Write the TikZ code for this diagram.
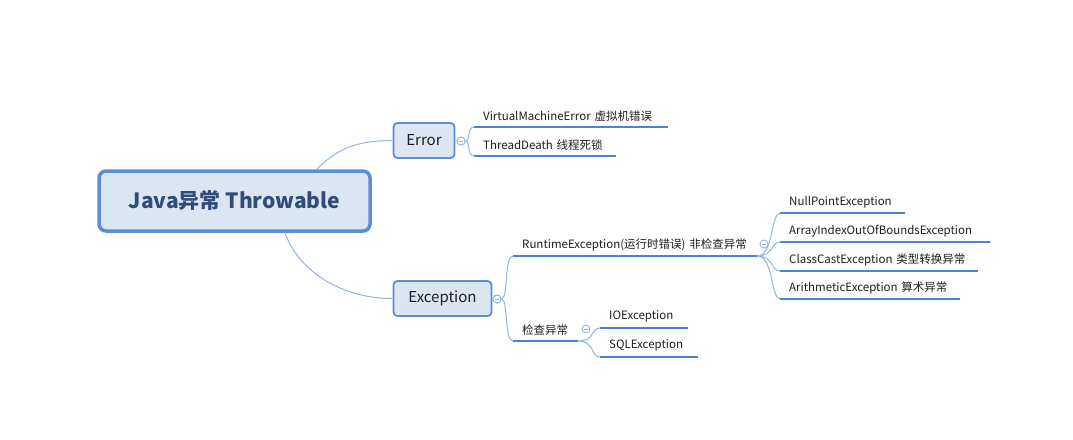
\documentclass[tikz,border=0pt]{standalone}
\usepackage{fontspec}
\setmainfont{Noto Sans CJK SC}
\usetikzlibrary{calc}
\definecolor{boxfill}{HTML}{DCE6F2}
\definecolor{boxline}{HTML}{5B8ED4}
\definecolor{uline}{HTML}{4D84CF}
\definecolor{thinline}{HTML}{92B6E3}
\definecolor{roottext}{HTML}{2F4C7A}
\definecolor{leaftext}{HTML}{1E1E1E}
\tikzset{
  rootbox/.style={draw=boxline, line width=3.5pt, fill=boxfill, rounded corners=7pt,
    minimum width=271pt, minimum height=60pt, inner sep=0pt,
    font=\fontsize{21}{24}\selectfont\bfseries, text=roottext},
  topicbox/.style={draw=boxline, line width=1.8pt, fill=boxfill, rounded corners=4pt,
    minimum height=35pt, inner sep=0pt, font=\fontsize{15}{18}\selectfont, text=leaftext},
  fold/.style={circle, draw=thinline, line width=0.9pt, fill=white, minimum size=8pt, inner sep=0pt,
    path picture={\draw[thinline, line width=0.9pt]
      ([xshift=-2.2pt]path picture bounding box.center) -- ([xshift=2.2pt]path picture bounding box.center);}},
  leaf/.style={anchor=south west, inner xsep=9pt, inner ysep=0pt, minimum height=22pt,
    align=left, font=\fontsize{11.5}{14}\selectfont, text=leaftext},
  underl/.style={draw=uline, line width=2.6pt},
  conn/.style={draw=thinline, line width=1pt},
}
\begin{document}
\begin{tikzpicture}[x=1pt, y=-1pt]
\useasboundingbox[fill=white] (0,0) rectangle (1073,439);

% main nodes
\node[rootbox] (root) at (234.5,201) {Java异常 Throwable};
\node[topicbox, minimum width=61pt] (error) at (424,140.5) {Error};
\node[topicbox, minimum width=98pt] (exc) at (442.5,298.5) {Exception};

% fold circles
\node[fold] (cerr) at (461,141) {};
\node[fold] (cexc) at (497,299) {};
\node[fold] (crt) at (764,244) {};
\node[fold] (cchk) at (586,329) {};

% leaves
\node[leaf, text width=176pt] (vme) at (474,127) {\mbox{VirtualMachineError 虚拟机错误}};
\node[leaf, text width=124pt] (td)  at (474,156) {\mbox{ThreadDeath 线程死锁}};
\node[leaf, text width=226pt] (rt)  at (513,256) {\mbox{RuntimeException(运行时错误) 非检查异常}};
\node[leaf, text width=47pt]  (chk) at (513,341) {\mbox{检查异常}};
\node[leaf, text width=107pt] (np)  at (780,213) {\mbox{NullPointException}};
\node[leaf, text width=192pt] (ai)  at (780,242) {\mbox{ArrayIndexOutOfBoundsException}};
\node[leaf, text width=180pt] (cc)  at (780,271) {\mbox{ClassCastException 类型转换异常}};
\node[leaf, text width=162pt] (ar)  at (780,299) {\mbox{ArithmeticException 算术异常}};
\node[leaf, text width=70pt]  (io)  at (600,328) {\mbox{IOException}};
\node[leaf, text width=80pt]  (sql) at (600,357) {\mbox{SQLException}};

% main connectors
\path[conn] ($(root.north west)!0.8!(root.north east)$) .. controls +(18,-18) and +(-40,0) .. (error.west);
\path[conn] ($(root.south west)!0.684!(root.south east)$) .. controls +(12,35) and +(-55,0) .. (exc.west);

% box to fold circles
\path[conn] (error.east) -- (cerr.west);
\path[conn] (exc.east) -- (cexc.west);

% brackets
\foreach \c in {vme,td}{
  \path[conn] (cerr.east) .. controls +(5,0) and +(-7,0) .. (\c.south west);
}
\foreach \c in {rt,chk}{
  \path[conn] (cexc.east) .. controls +(7,0) and +(-9,0) .. (\c.south west);
}
\foreach \c in {np,ai,cc,ar}{
  \path[conn] (rt.south east) .. controls +(16,0) and +(-9,0) .. (\c.south west);
}
\foreach \c in {io,sql}{
  \path[conn] (chk.south east) .. controls +(16,0) and +(-9,0) .. (\c.south west);
}

% underlines
\foreach \c in {vme,td,rt,chk,np,ai,cc,ar,io,sql}{
  \path[underl] (\c.south west) -- (\c.south east);
}

% redraw fold circles on top
\node[fold] at (cerr) {};
\node[fold] at (cexc) {};
\end{tikzpicture}
\end{document}
